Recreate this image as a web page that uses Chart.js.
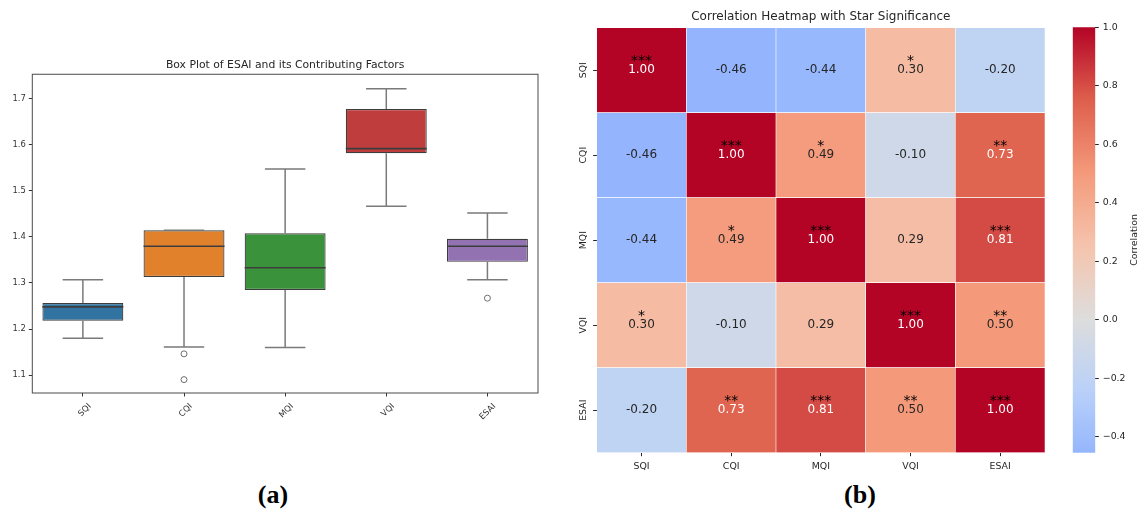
<!DOCTYPE html>
<html>
<head>
<meta charset="utf-8">
<script src="https://cdn.jsdelivr.net/npm/chart.js@4.4.1/dist/chart.umd.min.js"></script>
<style>
  html, body { margin: 0; padding: 0; background: #fff; }
  #page { position: relative; width: 1140px; height: 511px; overflow: hidden; }
  .panel { position: absolute; }
  #boxWrap { left: 0; top: 0; width: 560px; height: 430px; }
  #heatWrap { left: 560px; top: 0; width: 490px; height: 480px; }
  #barWrap { left: 1050px; top: 0; width: 90px; height: 480px; }
  .tag { position: absolute; font-family: "Liberation Serif", "Times New Roman", serif; font-weight: bold; font-size: 26px; line-height: 1; transform: translateX(-50%); }
</style>
</head>
<body>
<div id="page">
  <div class="panel" id="boxWrap"><canvas id="boxChart"></canvas></div>
  <div class="panel" id="heatWrap"><canvas id="heatChart"></canvas></div>
  <div class="panel" id="barWrap"><canvas id="barChart"></canvas></div>
  <div class="tag" style="left:273px; top:482px">(a)</div>
  <div class="tag" style="left:860px; top:482px">(b)</div>
</div>
<script>
// ---- box plot data ----
const categories = ['SQI', 'CQI', 'MQI', 'VQI', 'ESAI'];
const whiskerLow = [1.180, 1.161, 1.160, 1.467, 1.307];
const q1 = [1.218, 1.313, 1.285, 1.582, 1.346];
const medians = [1.248, 1.380, 1.333, 1.592, 1.380];
const q3 = [1.2565, 1.4146, 1.408, 1.678, 1.396];
const whiskerHigh = [1.307, 1.4146, 1.548, 1.722, 1.452];
const outlierCats = ['CQI', 'CQI', 'ESAI'];
const outlierVals = [1.146, 1.090, 1.267];
const boxTicks = [1.1, 1.2, 1.3, 1.4, 1.5, 1.6, 1.7];

// ---- heatmap data ----
const factors = ['SQI', 'CQI', 'MQI', 'VQI', 'ESAI'];
const corrSQI = [1.00, -0.46, -0.44, 0.30, -0.20];
const corrCQI = [-0.46, 1.00, 0.49, -0.10, 0.73];
const corrMQI = [-0.44, 0.49, 1.00, 0.29, 0.81];
const corrVQI = [0.30, -0.10, 0.29, 1.00, 0.50];
const corrESAI = [-0.20, 0.73, 0.81, 0.50, 1.00];
const starsSQI = ['***', '', '', '*', ''];
const starsCQI = ['', '***', '*', '', '**'];
const starsMQI = ['', '*', '***', '', '***'];
const starsVQI = ['*', '', '', '***', '**'];
const starsESAI = ['', '**', '***', '**', '***'];
const colorMin = -0.455;
const colorMax = 1.0;
const colorbarTicks = [-0.4, -0.2, 0.0, 0.2, 0.4, 0.6, 0.8, 1.0];

const corrRows = [corrSQI, corrCQI, corrMQI, corrVQI, corrESAI];
const starRows = [starsSQI, starsCQI, starsMQI, starsVQI, starsESAI];

const boxColors = ['#3274a1', '#e1812c', '#3a923a', '#c03d3e', '#9372b2'];
const FONT = '"DejaVu Sans", "Noto Sans", sans-serif';

Chart.defaults.font.family = FONT;
Chart.defaults.color = '#262626';
Chart.defaults.animation = false;

// coolwarm, centred on 0 (seaborn center=0 -> colormap spans -1..1)
const coolwarmStops = [
  [0.0, 59, 76, 192], [0.125, 98, 130, 234], [0.25, 141, 176, 254], [0.375, 184, 208, 249],
  [0.5, 221, 221, 221], [0.625, 245, 196, 173], [0.75, 244, 154, 123], [0.875, 222, 96, 77], [1.0, 180, 4, 38]
];
function coolwarm(v) {
  const t = Math.min(1, Math.max(0, (v + 1) / 2));
  for (let k = 1; k < coolwarmStops.length; k++) {
    const a = coolwarmStops[k - 1], b = coolwarmStops[k];
    if (t <= b[0]) {
      const f = (t - a[0]) / (b[0] - a[0]);
      return [1, 2, 3].map(j => Math.round(a[j] + (b[j] - a[j]) * f));
    }
  }
  return coolwarmStops[coolwarmStops.length - 1].slice(1);
}
const css = c => `rgb(${c[0]},${c[1]},${c[2]})`;
function luminance(c) {
  const lin = c.map(x => { x /= 255; return x <= 0.03928 ? x / 12.92 : Math.pow((x + 0.055) / 1.055, 2.4); });
  return 0.2126 * lin[0] + 0.7152 * lin[1] + 0.0722 * lin[2];
}

// whiskers, caps and medians for the box plot
const whiskerPlugin = {
  id: 'whiskers',
  afterDatasetDraw(chart, args) {
    if (args.index !== 0) return;
    const { ctx, scales: { x, y } } = chart;
    const bars = chart.getDatasetMeta(0).data;
    ctx.save();
    bars.forEach((bar, i) => {
      const cx = x.getPixelForValue(i);
      const half = bar.width / 2;
      ctx.strokeStyle = '#7a7a7a';
      ctx.lineWidth = 1.5;
      ctx.beginPath();
      ctx.moveTo(cx, y.getPixelForValue(q3[i]));
      ctx.lineTo(cx, y.getPixelForValue(whiskerHigh[i]));
      ctx.moveTo(cx, y.getPixelForValue(q1[i]));
      ctx.lineTo(cx, y.getPixelForValue(whiskerLow[i]));
      ctx.moveTo(cx - half / 2, y.getPixelForValue(whiskerHigh[i]));
      ctx.lineTo(cx + half / 2, y.getPixelForValue(whiskerHigh[i]));
      ctx.moveTo(cx - half / 2, y.getPixelForValue(whiskerLow[i]));
      ctx.lineTo(cx + half / 2, y.getPixelForValue(whiskerLow[i]));
      ctx.stroke();
      ctx.strokeStyle = '#3d3d3d';
      ctx.lineWidth = 1.6;
      ctx.beginPath();
      ctx.moveTo(cx - half, y.getPixelForValue(medians[i]));
      ctx.lineTo(cx + half, y.getPixelForValue(medians[i]));
      ctx.stroke();
    });
    ctx.restore();
  }
};

const framePlugin = {
  id: 'frame',
  afterDraw(chart) {
    const { ctx, chartArea: a } = chart;
    ctx.save();
    ctx.strokeStyle = '#4a4a4a';
    ctx.lineWidth = 1;
    ctx.strokeRect(a.left, a.top, a.right - a.left, a.bottom - a.top);
    ctx.restore();
  }
};

new Chart(document.getElementById('boxChart'), {
  type: 'bar',
  data: {
    labels: categories,
    datasets: [{
      label: 'IQR',
      data: categories.map((_, i) => [q1[i], q3[i]]),
      backgroundColor: boxColors,
      borderColor: '#3d3d3d',
      borderWidth: 1.2,
      borderSkipped: false,
      barPercentage: 0.8,
      categoryPercentage: 1.0
    }, {
      type: 'line',
      label: 'Outliers',
      data: outlierCats.map((c, i) => ({ x: c, y: outlierVals[i] })),
      showLine: false,
      pointRadius: 3,
      pointBorderWidth: 1,
      pointBorderColor: '#6e6e6e',
      pointBackgroundColor: '#ffffff'
    }]
  },
  options: {
    responsive: true,
    maintainAspectRatio: false,
    events: [],
    layout: { padding: { left: 0, right: 22, top: 0, bottom: 0 } },
    plugins: {
      legend: { display: false },
      tooltip: { enabled: false },
      title: {
        display: true,
        fullSize: false,
        text: 'Box Plot of ESAI and its Contributing Factors',
        color: '#262626',
        font: { size: 10.8, weight: 'normal' },
        padding: { top: 58.8, bottom: 2.5 }
      }
    },
    scales: {
      x: {
        offset: true,
        afterFit: s => { s.height = 37; },
        ticks: { minRotation: 45, maxRotation: 45, labelOffset: 7, padding: 5, font: { size: 8.4 }, color: '#333' },
        grid: { offset: false, drawOnChartArea: false, tickLength: 3.5, color: '#333' },
        border: { display: false }
      },
      y: {
        min: 1.0609,
        max: 1.7537,
        afterBuildTicks: s => { s.ticks = boxTicks.map(v => ({ value: v })); },
        afterFit: s => { s.width = 32.3; },
        ticks: { padding: 3, font: { size: 8.4 }, color: '#333', callback: v => v.toFixed(1) },
        grid: { drawOnChartArea: false, tickLength: 3.5, color: '#333' },
        border: { display: false }
      }
    }
  },
  plugins: [whiskerPlugin, framePlugin]
});

// ---- heatmap ----
const cellTextPlugin = {
  id: 'cellText',
  afterDatasetsDraw(chart) {
    const { ctx } = chart;
    ctx.save();
    ctx.textAlign = 'center';
    ctx.textBaseline = 'middle';
    chart.data.datasets.forEach((ds, di) => {
      chart.getDatasetMeta(di).data.forEach((el, ci) => {
        const cx = el.x;
        const cy = (el.y + el.base) / 2;
        const v = ds.corr[ci];
        ctx.font = '12px ' + FONT;
        ctx.fillStyle = luminance(coolwarm(v)) > 0.408 ? '#262626' : '#ffffff';
        ctx.fillText(v.toFixed(2), cx, cy);
        if (ds.stars[ci]) {
          ctx.font = '14px ' + FONT;
          ctx.fillStyle = '#000000';
          ctx.fillText(ds.stars[ci], cx, cy - 9);
        }
      });
    });
    ctx.restore();
  }
};

const rowOrder = factors.map((_, i) => factors.length - 1 - i);

new Chart(document.getElementById('heatChart'), {
  type: 'bar',
  data: {
    labels: factors,
    datasets: rowOrder.map(r => ({
      label: factors[r],
      data: corrRows[r].map(() => 1),
      corr: corrRows[r],
      stars: starRows[r],
      backgroundColor: corrRows[r].map(v => css(coolwarm(v))),
      borderColor: '#ffffff',
      borderWidth: 0.6,
      borderSkipped: false,
      barPercentage: 1,
      categoryPercentage: 1
    }))
  },
  options: {
    responsive: true,
    maintainAspectRatio: false,
    events: [],
    layout: { padding: { left: 0, right: 5, top: 0, bottom: 0 } },
    plugins: {
      legend: { display: false },
      tooltip: { enabled: false },
      title: {
        display: true,
        fullSize: false,
        text: 'Correlation Heatmap with Star Significance',
        color: '#262626',
        font: { size: 12, weight: 'normal' },
        padding: { top: 10, bottom: 3.3 }
      }
    },
    scales: {
      x: {
        stacked: true,
        offset: true,
        afterFit: s => { s.height = 27.3; },
        ticks: { padding: 4.5, font: { size: 9.4 } },
        grid: { offset: false, drawOnChartArea: false, tickLength: 3.5, color: '#262626' },
        border: { display: false }
      },
      y: {
        stacked: true,
        min: 0,
        max: factors.length,
        afterBuildTicks: s => { s.ticks = factors.map((_, i) => ({ value: i + 0.5 })); },
        afterFit: s => { s.width = 36.7; },
        ticks: {
          minRotation: 90, maxRotation: 90, crossAlign: 'center', padding: -0.6,
          font: { size: 9.4 },
          callback: v => factors[factors.length - 1 - Math.floor(v)]
        },
        grid: { drawOnChartArea: false, tickLength: 3.5, color: '#262626' },
        border: { display: false }
      }
    }
  },
  plugins: [cellTextPlugin]
});

// ---- colorbar ----
const colorbarLabelPlugin = {
  id: 'cbLabel',
  afterDraw(chart) {
    const { ctx, chartArea } = chart;
    ctx.save();
    ctx.translate(85, (chartArea.top + chartArea.bottom) / 2);
    ctx.rotate(-Math.PI / 2);
    ctx.font = '9.4px ' + FONT;
    ctx.fillStyle = '#262626';
    ctx.textAlign = 'center';
    ctx.textBaseline = 'middle';
    ctx.fillText('Correlation', 0, 0);
    ctx.restore();
  }
};

new Chart(document.getElementById('barChart'), {
  type: 'bar',
  data: {
    labels: ['Correlation'],
    datasets: [{
      data: [[colorMin, colorMax]],
      backgroundColor(context) {
        const chart = context.chart;
        if (!chart.chartArea) return 'rgba(0,0,0,0)';
        const y = chart.scales.y;
        const g = chart.ctx.createLinearGradient(0, y.getPixelForValue(colorMin), 0, y.getPixelForValue(colorMax));
        const n = 48;
        for (let k = 0; k <= n; k++) {
          g.addColorStop(k / n, css(coolwarm(colorMin + (colorMax - colorMin) * k / n)));
        }
        return g;
      },
      borderWidth: 0,
      barPercentage: 1,
      categoryPercentage: 1
    }]
  },
  options: {
    responsive: true,
    maintainAspectRatio: false,
    events: [],
    layout: { padding: { left: 22.7, right: 0, top: 27.3, bottom: 27.3 } },
    plugins: { legend: { display: false }, tooltip: { enabled: false } },
    scales: {
      x: { display: false },
      y: {
        position: 'right',
        min: colorMin,
        max: colorMax,
        afterBuildTicks: s => { s.ticks = colorbarTicks.map(v => ({ value: v })); },
        afterFit: s => { s.width = 44.7; },
        ticks: {
          padding: 4,
          font: { size: 9.4 },
          callback: v => (v < 0 ? '\u2212' : '') + Math.abs(v).toFixed(1)
        },
        grid: { drawOnChartArea: false, tickLength: 3.5, color: '#262626' },
        border: { display: false }
      }
    }
  },
  plugins: [colorbarLabelPlugin]
});
</script>
</body>
</html>
